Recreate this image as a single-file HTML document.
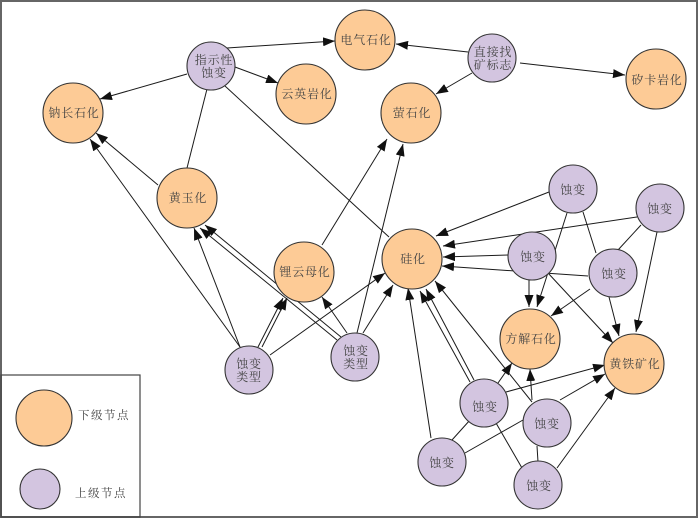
<!DOCTYPE html>
<html>
<head>
<meta charset="utf-8">
<style>
html,body{margin:0;padding:0;background:#fff;}
svg{display:block;}
text{font-family:"Liberation Serif","Noto Serif CJK SC","Noto Sans CJK SC",serif;font-size:12px;fill:#444;letter-spacing:0.8px;}
</style>
</head>
<body>
<svg width="700" height="519" viewBox="0 0 700 519" xmlns="http://www.w3.org/2000/svg">
<defs>
<marker id="a" markerWidth="12" markerHeight="9" refX="12" refY="4.5" orient="auto" markerUnits="userSpaceOnUse">
<path d="M0,0 L12,4.5 L0,9 z" fill="#111"/>
</marker>
</defs>
<rect x="0" y="0" width="700" height="519" fill="#fff"/>
<rect x="1" y="1" width="696" height="516" fill="none" stroke="#666" stroke-width="2"/>
<rect x="1" y="375" width="139" height="142" fill="none" stroke="#444" stroke-width="1.2"/>

<g stroke="#1a1a1a" stroke-width="1" fill="none">
<!-- top -->
<line x1="227" y1="48" x2="335" y2="41" marker-end="url(#a)"/>
<line x1="187" y1="74" x2="100" y2="99" marker-end="url(#a)"/>
<line x1="235" y1="67" x2="278" y2="83" marker-end="url(#a)"/>
<line x1="207" y1="89" x2="187" y2="168"/>
<line x1="225" y1="86" x2="389" y2="237"/>
<line x1="468" y1="52" x2="396" y2="44" marker-end="url(#a)"/>
<line x1="472" y1="73" x2="436" y2="94" marker-end="url(#a)"/>
<line x1="520" y1="63" x2="625" y2="75" marker-end="url(#a)"/>
<!-- left -->
<line x1="158" y1="185" x2="96" y2="133" marker-end="url(#a)"/>
<line x1="240" y1="347" x2="90" y2="139" marker-end="url(#a)"/>
<line x1="240" y1="347" x2="194" y2="228" marker-end="url(#a)"/>
<line x1="337" y1="340" x2="200" y2="228" marker-end="url(#a)"/>
<line x1="341" y1="337" x2="205" y2="225" marker-end="url(#a)"/>
<line x1="258" y1="347" x2="283" y2="298" marker-end="url(#a)"/>
<line x1="262" y1="347" x2="287" y2="298" marker-end="url(#a)"/>
<line x1="270" y1="355" x2="385" y2="273" marker-end="url(#a)"/>
<line x1="347" y1="333" x2="322" y2="297" marker-end="url(#a)"/>
<line x1="357" y1="333" x2="403" y2="144" marker-end="url(#a)"/>
<line x1="322" y1="245" x2="387" y2="139" marker-end="url(#a)"/>
<line x1="363" y1="333" x2="393" y2="285" marker-end="url(#a)"/>
<!-- right cluster -->
<line x1="549" y1="192" x2="436" y2="236" marker-end="url(#a)"/>
<line x1="637" y1="217" x2="443" y2="246" marker-end="url(#a)"/>
<line x1="508" y1="255" x2="443" y2="257" marker-end="url(#a)"/>
<line x1="588" y1="276" x2="442" y2="266" marker-end="url(#a)"/>
<line x1="567" y1="213" x2="537" y2="307" marker-end="url(#a)"/>
<line x1="583" y1="212" x2="596" y2="253"/>
<line x1="641" y1="225" x2="618" y2="250"/>
<line x1="657" y1="232" x2="636" y2="332" marker-end="url(#a)"/>
<line x1="529" y1="280" x2="529" y2="307" marker-end="url(#a)"/>
<line x1="548" y1="273" x2="613" y2="343" marker-end="url(#a)"/>
<line x1="590" y1="289" x2="551" y2="316" marker-end="url(#a)"/>
<line x1="609" y1="297" x2="619" y2="336" marker-end="url(#a)"/>
<!-- bottom cluster -->
<line x1="470" y1="382" x2="420" y2="291" marker-end="url(#a)"/>
<line x1="474" y1="380" x2="426" y2="289" marker-end="url(#a)"/>
<line x1="532" y1="402" x2="435" y2="281" marker-end="url(#a)"/>
<line x1="431" y1="438" x2="408" y2="288" marker-end="url(#a)"/>
<line x1="498" y1="383" x2="512" y2="363" marker-end="url(#a)"/>
<line x1="506" y1="392" x2="605" y2="365" marker-end="url(#a)"/>
<line x1="532" y1="400" x2="530" y2="369" marker-end="url(#a)"/>
<line x1="560" y1="400" x2="605" y2="374" marker-end="url(#a)"/>
<line x1="452" y1="440" x2="470" y2="420"/>
<line x1="465" y1="453" x2="523" y2="420"/>
<line x1="496" y1="423" x2="522" y2="468"/>
<line x1="537" y1="446" x2="538" y2="462"/>
<line x1="557" y1="468" x2="615" y2="388" marker-end="url(#a)"/>
</g>

<!-- orange nodes -->
<g fill="#FDCB96" stroke="#333" stroke-width="1.1">
<circle cx="73" cy="113" r="30"/>
<circle cx="306" cy="94" r="30"/>
<circle cx="187" cy="198" r="30"/>
<circle cx="365" cy="40" r="30"/>
<circle cx="656" cy="79" r="30"/>
<circle cx="411" cy="113" r="30"/>
<circle cx="412" cy="259" r="30"/>
<circle cx="304" cy="272" r="30"/>
<circle cx="530" cy="339" r="30"/>
<circle cx="634" cy="364" r="30"/>
<circle cx="44" cy="418" r="28"/>
</g>
<!-- purple nodes -->
<g fill="#D3C5E0" stroke="#333" stroke-width="1.1">
<circle cx="211" cy="66" r="24"/>
<circle cx="492" cy="58" r="24"/>
<circle cx="573" cy="189" r="24"/>
<circle cx="660" cy="208" r="24"/>
<circle cx="249" cy="370" r="24"/>
<circle cx="355" cy="357" r="24"/>
<circle cx="532" cy="256" r="24"/>
<circle cx="613" cy="273" r="24"/>
<circle cx="484" cy="403" r="24"/>
<circle cx="547" cy="423" r="24"/>
<circle cx="442" cy="462" r="24"/>
<circle cx="538" cy="485" r="24"/>
<circle cx="40" cy="489" r="20"/>
</g>

<g text-anchor="middle" dominant-baseline="central">
<text x="74" y="113">钠长石化</text>
<text x="307" y="94">云英岩化</text>
<text x="188" y="198">黄玉化</text>
<text x="366" y="40">电气石化</text>
<text x="657" y="80">矽卡岩化</text>
<text x="412" y="113">萤石化</text>
<text x="413" y="259">硅化</text>
<text x="305" y="272">锂云母化</text>
<text x="531" y="339">方解石化</text>
<text x="635" y="364">黄铁矿化</text>

<text x="214" y="60">指示性</text>
<text x="214" y="73">蚀变</text>
<text x="493" y="52">直接找</text>
<text x="493" y="65">矿标志</text>
<text x="573" y="190">蚀变</text>
<text x="660" y="209">蚀变</text>
<text x="249" y="364">蚀变</text>
<text x="249" y="377">类型</text>
<text x="356" y="351">蚀变</text>
<text x="356" y="364">类型</text>
<text x="533" y="257">蚀变</text>
<text x="614" y="274">蚀变</text>
<text x="485" y="407">蚀变</text>
<text x="547" y="424">蚀变</text>
<text x="442" y="463">蚀变</text>
<text x="539" y="486">蚀变</text>
</g>
<g dominant-baseline="central">
<text x="78" y="416" style="font-size:11.5px;letter-spacing:1.5px">下级节点</text>
<text x="75" y="494" style="font-size:11.5px;letter-spacing:1.5px">上级节点</text>
</g>
</svg>
</body>
</html>
